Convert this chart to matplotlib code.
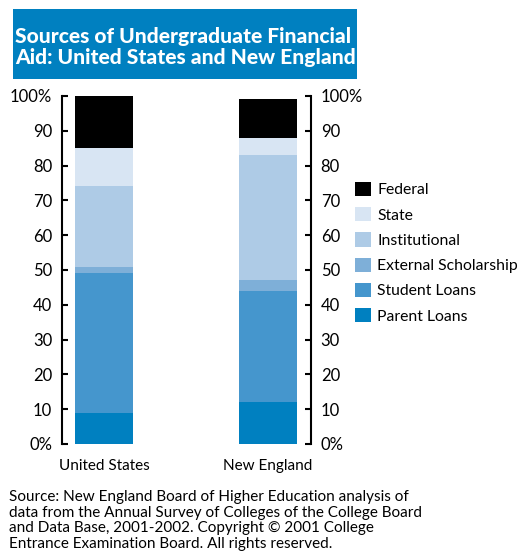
import matplotlib.pyplot as plt
from matplotlib.patches import Patch, Rectangle

plt.rcParams['font.family'] = ['Lato', 'DejaVu Sans']

regions = ['United States', 'New England']
sources = ['Parent Loans', 'Student Loans', 'External Scholarship',
           'Institutional', 'State', 'Federal']
# share of aid by source, percent, bottom to top of each bar
shares = {
    'Parent Loans':         [9, 12],
    'Student Loans':        [40, 32],
    'External Scholarship': [2, 3],
    'Institutional':        [23, 36],
    'State':                [11, 5],
    'Federal':              [15, 11],
}
colors = {
    'Parent Loans':         '#0080c0',
    'Student Loans':        '#4596cd',
    'External Scholarship': '#7eafd8',
    'Institutional':        '#aecbe6',
    'State':                '#d8e5f3',
    'Federal':              '#000000',
}
yticks = [0, 10, 20, 30, 40, 50, 60, 70, 80, 90, 100]
ylabels = ['0%', '10', '20', '30', '40', '50', '60', '70', '80', '90', '100%']

W, H = 531, 555
fig = plt.figure(figsize=(W / 100, H / 100), dpi=100)
ax = fig.add_axes([62 / W, (H - 444) / H, (311 - 62) / W, 348 / H])

bottom = [0, 0]
for src in sources:
    ax.bar([0, 1], shares[src], bottom=bottom, width=0.354,
           color=colors[src], linewidth=0)
    bottom = [b + v for b, v in zip(bottom, shares[src])]

ax.set_xlim(-0.256, 1.262)
ax.set_ylim(0, 100)
ax.set_xticks([0, 1])
ax.set_xticklabels(regions, fontsize=11)
ax.tick_params(axis='x', length=0, pad=11)
ax.set_yticks(yticks)
ax.set_yticklabels(ylabels)
ax.tick_params(axis='y', left=True, right=True, labelleft=True, labelright=True,
               direction='in', length=4.5, width=1.5, pad=7, labelsize=12)
for side in ['top', 'bottom']:
    ax.spines[side].set_visible(False)
for side in ['left', 'right']:
    ax.spines[side].set_linewidth(1.5)

handles = [Patch(facecolor=colors[s], edgecolor='none', label=s) for s in sources[::-1]]
fig.legend(handles=handles, loc='upper left', bbox_to_anchor=(355 / W, 1 - 182 / H),
           frameon=False, fontsize=11.3, handlelength=1.02, handleheight=1.02,
           handletextpad=0.4, labelspacing=0.62, borderpad=0, borderaxespad=0)

# title banner
fig.patches.append(Rectangle((12.7 / W, 1 - 79.3 / H), (357.3 - 12.7) / W, 70.3 / H,
                             transform=fig.transFigure, facecolor='#0080c0',
                             edgecolor='none'))
fig.text(15 / W, 1 - 47 / H,
         'Sources of Undergraduate Financial\nAid: United States and New England',
         color='white', fontsize=15.1, fontweight='black', va='center', ha='left',
         linespacing=1.18)

fig.text(9 / W, 1 - 490 / H,
         'Source: New England Board of Higher Education analysis of\n'
         'data from the Annual Survey of Colleges of the College Board\n'
         'and Data Base, 2001-2002. Copyright \u00a9 2001 College\n'
         'Entrance Examination Board. All rights reserved.',
         fontsize=11.0, va='top', ha='left', linespacing=1.15)

fig.savefig('out.png', dpi=100)
